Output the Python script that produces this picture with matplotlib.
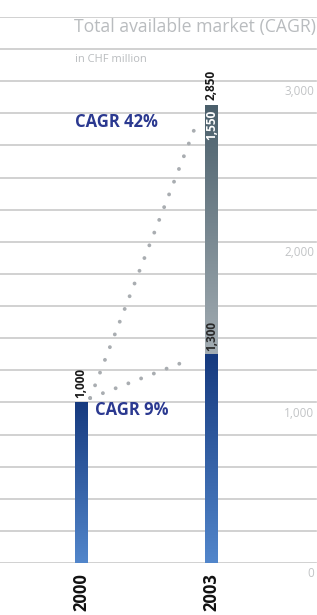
import numpy as np
import matplotlib.pyplot as plt
from matplotlib.colors import LinearSegmentedColormap

plt.rcParams['font.family'] = ['Open Sans', 'DejaVu Sans']

# data
years = ["2000", "2003"]
x_pos = [0, 3]
base_vals = [1000, 1300]      # blue segment
extra_vals = [0, 1550]        # grey segment on 2003
totals = [1000, 2850]
y_ticks = [0, 1000, 2000, 3000]
y_tick_labels = ["0", "1,000", "2,000", "3,000"]
grid_vals = list(range(0, 3401, 200))

# CAGR guide lines (start/end in data coords)
cagr42_x = [0.21, 2.67]
cagr42_y = [1027, 2746]
cagr9_x = [0.21, 2.52]
cagr9_y = [1027, 1268]

blue_cmap = LinearSegmentedColormap.from_list("b", ["#5286cb", "#163a7f"])
grey_cmap = LinearSegmentedColormap.from_list("g", ["#a3adb3", "#4a5f6b"])
cagr_color = "#2b3990"
light = "#b9bcbf"

fig = plt.figure(figsize=(3.17, 6.15), dpi=100)
ax = fig.add_axes([0, 52 / 615, 1, 546 / 615])
ax.axis("off")

for g in grid_vals:
    ax.axhline(g, xmin=0, xmax=316 / 317, color="#c9c9c9", linewidth=1.2, zorder=1)

width = 0.29
grad = np.linspace(0, 1, 256).reshape(-1, 1)
for x, b, e in zip(x_pos, base_vals, extra_vals):
    bars = ax.bar(x, b, width=width, color="none", zorder=3)
    im = ax.imshow(grad, cmap=blue_cmap, origin="lower", aspect="auto",
                   extent=[x - width / 2, x + width / 2, 0, b], zorder=2)
    im.set_clip_path(bars[0])
    if e > 0:
        bars2 = ax.bar(x, e, bottom=b, width=width, color="none", zorder=3)
        im2 = ax.imshow(grad, cmap=grey_cmap, origin="lower", aspect="auto",
                        extent=[x - width / 2, x + width / 2, b, b + e], zorder=2)
        im2.set_clip_path(bars2[0])
ax.set_xlim(-1.862, 5.425)
ax.set_ylim(0, 3400)

# dotted CAGR lines
for xs, ys in [(cagr42_x, cagr42_y), (cagr9_x, cagr9_y)]:
    ax.plot(xs, ys, color="#a9adb1", linewidth=2.8, linestyle=(0, (0.01, 3.5)),
            dash_capstyle="round", zorder=4)

ax.text(-0.14, 2749, "CAGR 42%", color=cagr_color, fontsize=12, fontweight="bold",
        va="center", ha="left")
ax.text(0.32, 953, "CAGR 9%", color=cagr_color, fontsize=12, fontweight="bold",
        va="center", ha="left")

# value labels
lab_kw = dict(rotation=90, fontsize=8.5, fontweight="bold", ha="center",
              textcoords="offset points")
ax.annotate("1,000", xy=(x_pos[0], totals[0]), xytext=(0, 3), va="bottom",
            color="#1a1a1a", **lab_kw)
ax.annotate("2,850", xy=(x_pos[1], totals[1]), xytext=(0, 4), va="bottom",
            color="#1a1a1a", **lab_kw)
ax.annotate("1,550", xy=(x_pos[1], totals[1]), xytext=(0, -3), va="top",
            color="white", **lab_kw)
ax.annotate("1,300", xy=(x_pos[1], base_vals[1]), xytext=(0, 2), va="bottom",
            color="#2a2a2a", **lab_kw)

# year labels
for x, yr in zip(x_pos, years):
    ax.annotate(yr, xy=(x, 0), xytext=(0, -7), textcoords="offset points",
                rotation=90, ha="center", va="top", fontsize=12,
                fontweight="bold", color="#111111")

# y tick labels on the right
for v, t in zip(y_ticks, y_tick_labels):
    ax.annotate(t, xy=(314 / 317, v), xycoords=("axes fraction", "data"),
                xytext=(0, -3), textcoords="offset points", ha="right", va="top",
                fontsize=8.5, color="#c2c4c6")

fig.text(316 / 317, 1 - 27 / 615, "Total available market (CAGR)", ha="right",
         va="center", fontsize=12.7, color=light)
fig.text(75 / 317, 1 - 59 / 615, "in CHF million", ha="left", va="center",
         fontsize=8, color=light)

plt.savefig("out.png", dpi=100)
